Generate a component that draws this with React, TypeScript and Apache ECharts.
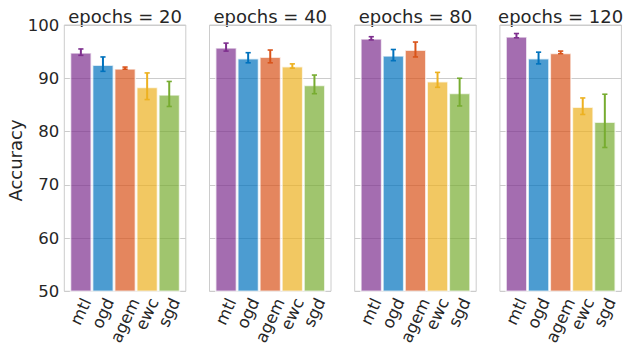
import React, { useEffect, useRef } from "react";
import * as echarts from "echarts";

const methods = ["mtl", "ogd", "agem", "ewc", "sgd"];
const epochTitles = ["epochs = 20", "epochs = 40", "epochs = 80", "epochs = 120"];
const yTicks = [50, 60, 70, 80, 90, 100];

const meanE20 = [94.9, 92.6, 91.9, 88.4, 87.0];
const lowE20 = [94.3, 91.3, 91.7, 86.0, 84.7];
const highE20 = [95.5, 94.0, 92.1, 91.0, 89.4];

const meanE40 = [95.8, 93.8, 94.1, 92.3, 88.8];
const lowE40 = [95.1, 92.9, 92.9, 91.9, 87.1];
const highE40 = [96.6, 94.8, 95.3, 92.7, 90.6];

const meanE80 = [97.5, 94.3, 95.4, 89.5, 87.3];
const lowE80 = [97.2, 93.3, 94.0, 88.3, 84.8];
const highE80 = [97.8, 95.4, 96.8, 91.1, 90.0];

const meanE120 = [97.9, 93.8, 94.8, 84.7, 81.9];
const lowE120 = [97.6, 92.7, 94.6, 83.2, 77.0];
const highE120 = [98.4, 94.9, 95.1, 86.3, 87.0];

const methodColors = ["#7E2F8E", "#0072BD", "#D95319", "#EDB120", "#77AC30"];

const FONT = '"DejaVu Sans", "Liberation Sans", sans-serif';
const TEXT = "#262626";
const GRIDC = "#cccccc";
const TICK_SIZE = 16.5;
const TITLE_SIZE = 18;

function rgba(hex: string, a: number) {
  const n = parseInt(hex.slice(1), 16);
  return `rgba(${(n >> 16) & 255},${(n >> 8) & 255},${n & 255},${a})`;
}

function measure(t: string, size: number) {
  const c = document.createElement("canvas").getContext("2d");
  if (!c) return t.length * size * 0.6;
  c.font = `${size}px "DejaVu Sans"`;
  return c.measureText(t).width;
}

export default function App() {
  const ref = useRef<HTMLDivElement>(null);
  useEffect(() => {
    if (!ref.current) return;
    const chart = echarts.init(ref.current, null, { renderer: "svg" });
    const means = [meanE20, meanE40, meanE80, meanE120];
    const lows = [lowE20, lowE40, lowE80, lowE120];
    const highs = [highE20, highE40, highE80, highE120];

    const L0 = 64.3, STEP = 145.2, GW = 121.5, GT = 25, GH = 271;
    const XMIN = -0.75, XMAX = 4.75;
    const pxPerUnit = GW / (XMAX - XMIN);
    const rot = 65;
    const shiftVals = methods.map(
      (m, i) => i + (0.5 * Math.cos((rot * Math.PI) / 180) * measure(m, TICK_SIZE)) / pxPerUnit
    );

    const grid: any[] = [];
    const xAxis: any[] = [];
    const yAxis: any[] = [];
    const series: any[] = [];
    const graphic: any[] = [];

    for (let p = 0; p < 4; p++) {
      const left = L0 + p * STEP;
      grid.push({
        left, top: GT, width: GW, height: GH,
        show: true, borderColor: GRIDC, borderWidth: 1, backgroundColor: "transparent",
        containLabel: false,
      });
      xAxis.push({
        type: "value", gridIndex: p, min: XMIN, max: XMAX,
        axisLine: { show: false }, axisTick: { show: false }, splitLine: { show: false },
        axisLabel: {
          customValues: shiftVals,
          formatter: (v: number) => methods[Math.floor(v + 1e-6)] ?? "",
          rotate: rot, margin: 8, fontSize: TICK_SIZE, color: TEXT, fontFamily: FONT,
        },
      });
      yAxis.push({
        type: "value", gridIndex: p, min: 50, max: 100, interval: 10,
        axisLine: { show: false }, axisTick: { show: false },
        splitLine: { show: true, lineStyle: { color: GRIDC, width: 1 } },
        axisLabel: {
          show: p === 0, fontSize: TICK_SIZE, color: TEXT, fontFamily: FONT, margin: 5,
          formatter: (v: number) => (yTicks.includes(v) ? String(v) : ""),
        },
      });
      series.push({
        type: "bar", xAxisIndex: p, yAxisIndex: p, barWidth: pxPerUnit,
        data: means[p].map((v, i) => ({
          value: [i, v],
          itemStyle: {
            color: rgba(methodColors[i], 0.7),
            borderColor: "rgba(255,255,255,0.7)",
            borderWidth: 1.5,
          },
        })),
      });
      series.push({
        type: "custom", xAxisIndex: p, yAxisIndex: p, z: 5,
        encode: { x: 0, y: [1, 2] },
        data: methods.map((_, i) => [i, lows[p][i], highs[p][i]]),
        renderItem: (params: any, api: any) => {
          const x = api.value(0);
          const top = api.coord([x, api.value(2)]);
          const bot = api.coord([x, api.value(1)]);
          const c = methodColors[params.dataIndex];
          const cw = 2.6;
          return {
            type: "group",
            children: [
              { type: "line", shape: { x1: top[0], y1: top[1], x2: bot[0], y2: bot[1] }, style: { stroke: c, lineWidth: 2 } },
              { type: "line", shape: { x1: top[0] - cw, y1: top[1], x2: top[0] + cw, y2: top[1] }, style: { stroke: c, lineWidth: 1.6 } },
              { type: "line", shape: { x1: bot[0] - cw, y1: bot[1], x2: bot[0] + cw, y2: bot[1] }, style: { stroke: c, lineWidth: 1.6 } },
            ],
          };
        },
      });
      graphic.push({
        type: "text", x: left + GW / 2, y: 16.5,
        style: { text: epochTitles[p], align: "center", verticalAlign: "middle", fontSize: TITLE_SIZE, fontFamily: FONT, fill: TEXT },
      });
    }
    graphic.push({
      type: "text", x: 15.5, y: GT + GH / 2, rotation: Math.PI / 2,
      style: { text: "Accuracy", align: "center", verticalAlign: "middle", fontSize: TITLE_SIZE, fontFamily: FONT, fill: TEXT },
    });

    chart.setOption({
      animation: false,
      backgroundColor: "#ffffff",
      textStyle: { fontFamily: FONT },
      grid, xAxis, yAxis, series, graphic,
    });
    return () => chart.dispose();
  }, []);
  return <div ref={ref} style={{ position: "absolute", left: 0, top: 0, width: 623, height: 348 }} />;
}
